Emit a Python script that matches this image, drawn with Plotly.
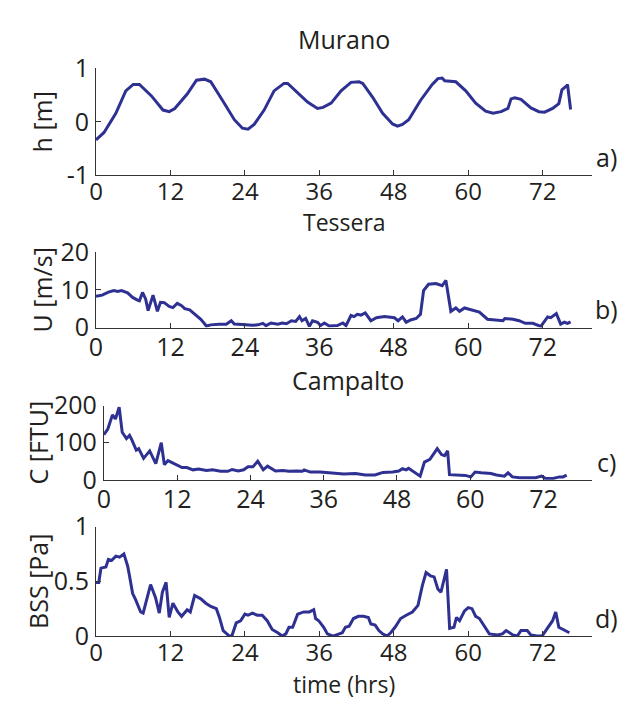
import plotly.graph_objects as go

# ---------------- data ----------------
t_h = [0, 1.3, 3.2, 4.8, 6.0, 7.0, 8.9, 10.8, 11.8, 12.7, 14.7, 16.2, 17.5, 18.5, 20.4, 22.3, 23.6,
       24.5, 25.5, 27.1, 28.7, 30.3, 30.9, 32.5, 34.1, 35.7, 36.6, 37.9, 39.5, 41.1, 42.4, 43.0, 44.6,
       46.2, 47.8, 48.6, 49.4, 50.4, 52.3, 54.2, 55.1, 55.8, 56.2, 58.0, 59.6, 61.2, 62.8, 64.0, 65.3,
       66.4, 66.9, 67.5, 68.5, 70.1, 71.4, 72.3, 73.6, 74.6, 75.1, 75.9, 76.0, 76.5]
h_m = [-0.34, -0.2, 0.16, 0.58, 0.7, 0.7, 0.49, 0.22, 0.19, 0.25, 0.52, 0.78, 0.8, 0.75, 0.4, 0.04, -0.12,
       -0.14, -0.05, 0.22, 0.58, 0.72, 0.72, 0.55, 0.37, 0.25, 0.27, 0.35, 0.58, 0.74, 0.75, 0.72, 0.46,
       0.16, -0.04, -0.08, -0.05, 0.04, 0.4, 0.7, 0.81, 0.82, 0.77, 0.75, 0.58, 0.35, 0.2, 0.16, 0.19,
       0.25, 0.43, 0.45, 0.42, 0.26, 0.19, 0.18, 0.25, 0.34, 0.6, 0.68, 0.7, 0.23]

t_u = [0, 1.0, 2.0, 2.9, 3.5, 4.1, 5.1, 5.9, 6.7, 7.0, 7.5, 8.0, 8.4, 9.2, 9.9, 10.4, 11.0, 11.8, 12.4,
       13.1, 13.8, 14.3, 15.1, 15.9, 16.9, 17.8, 18.5, 19.8, 21.0, 21.8, 22.3, 23.6, 25.2, 26.1, 26.9,
       27.4, 28.2, 29.3, 30.0, 30.7, 31.5, 32.2, 32.8, 33.2, 33.8, 34.4, 34.9, 35.7, 36.2, 36.8, 37.6,
       38.9, 39.8, 40.3, 41.1, 41.6, 42.1, 42.7, 43.4, 44.3, 45.2, 46.5, 48.1, 48.7, 49.4, 50.0, 50.7,
       51.6, 52.3, 52.8, 53.6, 54.8, 55.8, 56.4, 57.2, 58.0, 58.6, 59.4, 60.5, 61.8, 63.1, 64.4, 65.6,
       65.9, 67.2, 68.2, 69.2, 70.4, 71.7, 72.8, 73.3, 74.2, 74.9, 75.5, 76.0, 76.5]
u_ms = [8.3, 8.6, 9.4, 9.8, 9.6, 9.8, 9.2, 8.0, 7.3, 7.1, 9.3, 7.6, 4.5, 8.6, 4.3, 6.7, 6.6, 5.6, 5.3,
        6.4, 5.8, 5.0, 4.7, 3.5, 2.2, 0.4, 0.7, 0.85, 0.85, 1.8, 0.9, 0.8, 0.6, 0.7, 1.1,
        0.5, 1.2, 0.9, 1.2, 1.0, 1.8, 1.6, 2.9, 1.8, 2.4, 0.3, 1.8, 1.4, 0.5, 1.2, 0.4,
        0.5, 1.2, 0.5, 3.2, 2.9, 3.5, 3.3, 3.9, 1.8, 2.6, 2.9, 2.6, 1.8, 2.8, 1.4, 2.0,
        2.4, 3.5, 9.8, 11.5, 11.7, 11.1, 12.5, 4.3, 5.2, 4.3, 5.2, 4.7, 4.1, 2.2, 1.9, 1.8,
        2.4, 2.2, 1.8, 1.1, 1.1, 0.3, 2.8, 2.6, 3.7, 0.9, 1.4, 1.1, 1.5]

t_c = [0, 0.64, 1.4, 1.9, 2.5, 3.0, 3.7, 4.2, 4.6, 5.3, 5.7, 6.5, 7.5, 8.5, 9.4, 9.9, 10.5, 11.4, 12.1,
       12.8, 13.6, 14.6, 15.5, 16.8, 17.8, 19.1, 20.3, 21.0, 22.0, 22.9, 23.6, 24.4, 25.2, 26.1, 26.8,
       27.4, 28.1, 29.3, 30.3, 31.6, 32.5, 32.8, 33.8, 35.4, 37.3, 39.3, 41.2, 42.8, 44.4, 45.7, 47.3,
       48.3, 48.9, 49.5, 49.9, 50.6, 51.2, 51.8, 52.5, 53.4, 54.6, 55.3, 55.8, 56.3, 56.6, 57.9, 59.2,
       60.1, 60.8, 61.8, 63.4, 64.3, 65.6, 66.2, 66.9, 68.1, 69.4, 70.7, 71.7, 72.3, 73.6, 74.6, 75.2, 75.8]
c_ftu = [122, 137, 175, 164, 196, 128, 111, 120, 107, 80, 84, 58, 78, 44, 100, 41, 52, 44, 40,
         33, 33, 27, 29, 25, 27, 23, 23, 28, 24, 27, 35, 35, 50, 27, 37,
         30, 24, 25, 23, 24, 23, 27, 21, 21, 19, 16, 17, 13, 13, 20, 21,
         24, 30, 27, 31, 23, 17, 10, 48, 55, 84, 68, 65, 78, 14, 13, 12,
         8, 21, 19, 17, 13, 10, 19, 8, 6, 6, 6, 10, 4, 4, 8, 8, 13]

t_b = [0, 0.45, 0.8, 1.6, 2.0, 2.5, 3.2, 3.8, 4.5, 4.8, 5.1, 5.4, 5.9, 6.4, 7.2, 7.6, 8.8, 9.6, 10.2,
       10.7, 11.3, 11.8, 12.4, 13.2, 13.8, 14.7, 15.2, 15.9, 16.9, 17.7, 18.5, 19.4, 19.9, 20.5, 21.2,
       21.5, 21.9, 22.6, 23.3, 24.0, 24.5, 25.2, 26.0, 26.8, 27.6, 28.4, 29.3, 30.0, 30.6, 31.1, 31.7,
       32.5, 33.5, 34.4, 35.1, 35.4, 35.9, 36.7, 37.3, 38.2, 39.2, 39.7, 40.2, 40.8, 41.5, 42.3, 43.1,
       43.9, 44.3, 45.0, 45.6, 46.2, 46.9, 47.5, 48.2, 49.1, 50.0, 51.0, 51.9, 52.6, 53.2, 53.9, 54.5,
       55.1, 55.6, 56.1, 56.5, 57.0, 57.7, 58.1, 58.6, 59.4, 60.0, 60.6, 61.2, 61.8, 62.6, 63.4, 64.7,
       65.5, 66.1, 67.2, 67.9, 68.5, 69.5, 70.1, 71.1, 71.9, 72.5, 73.6, 74.1, 74.6, 75.3, 75.9, 76.3]
bss_pa = [0.49, 0.49, 0.62, 0.63, 0.70, 0.69, 0.73, 0.72, 0.75, 0.69, 0.64, 0.55, 0.39, 0.33, 0.22, 0.21, 0.47, 0.35, 0.21,
          0.40, 0.49, 0.17, 0.30, 0.22, 0.18, 0.24, 0.22, 0.37, 0.34, 0.30, 0.27, 0.25, 0.17, 0.05, 0.02,
          0.0, 0.0, 0.12, 0.14, 0.20, 0.19, 0.21, 0.19, 0.19, 0.14, 0.06, 0.03, 0.0, 0.02, 0.08, 0.08,
          0.20, 0.22, 0.22, 0.24, 0.16, 0.14, 0.08, 0.02, 0.0, 0.02, 0.03, 0.08, 0.09, 0.16, 0.18, 0.18,
          0.17, 0.11, 0.10, 0.05, 0.02, 0.0, 0.03, 0.08, 0.16, 0.19, 0.22, 0.28, 0.46, 0.58, 0.55, 0.54,
          0.43, 0.40, 0.52, 0.61, 0.07, 0.08, 0.17, 0.14, 0.23, 0.26, 0.25, 0.18, 0.16, 0.09, 0.02, 0.01,
          0.02, 0.05, 0.01, 0.0, 0.05, 0.05, 0.01, 0.0, 0.0, 0.05, 0.14, 0.22, 0.08, 0.06, 0.04, 0.03]

x_ticks = [0, 12, 24, 36, 48, 60, 72]
panel_titles = ["Murano", "Tessera", "Campalto"]
y_titles = ["h [m]", "U [m/s]", "C [FTU]", "BSS [Pa]"]
panel_letters = ["a)", "b)", "c)", "d)"]

# ---------------- layout helpers ----------------
W, H = 621, 713
FONT = "Open Sans"
LINE = "#2E3192"
AX = "#333333"
FS = 25


def px(x):
    return x / W


def py(y):
    return 1 - y / H


# pixel boxes: (left, right, top, bottom)
boxes = [(90, 592, 53, 165), (90, 592, 246, 325), (98, 592, 407, 485), (90, 592, 534, 649)]
yranges = [[-1, 1], [0, 20], [0, 200], [0, 1]]
yticks = [[-1, 0, 1], [0, 10, 20], [0, 100, 200], [0, 0.5, 1]]
yticktext = [["-1", "0", "1"], ["0", "10", "20"], ["0", "100", "200"], ["0", "0.5", "1"]]
series = [(t_h, h_m), (t_u, u_ms), (t_c, c_ftu), (t_b, bss_pa)]
ytitle_x = [35, 35, 31, 32]
xtick_fs = [24, 25, 25, 24]
xtick_off = [-5, -3, -3, -5]

fig = go.Figure()
layout = dict(
    width=W, height=H, margin=dict(l=0, r=0, t=0, b=0),
    paper_bgcolor="white", plot_bgcolor="white", showlegend=False,
    font=dict(family=FONT, size=FS, color="#231F20"),
)
annotations = []
for i, ((l, r, t, b), (xs, ys)) in enumerate(zip(boxes, series)):
    k = "" if i == 0 else str(i + 1)
    fig.add_trace(go.Scatter(x=xs, y=ys, mode="lines", line=dict(color=LINE, width=3),
                             xaxis="x" + k, yaxis="y" + k))
    layout["xaxis" + k] = dict(
        domain=[px(l), px(r)], range=[0, 80], anchor="y" + k,
        tickvals=x_ticks, ticktext=[str(v) for v in x_ticks],
        ticks="inside", ticklen=5, tickcolor=AX, tickwidth=1,
        showline=True, linecolor=AX, linewidth=1, showgrid=False, zeroline=False,
        tickfont=dict(size=xtick_fs[i]), ticklabelstandoff=xtick_off[i],
    )
    layout["yaxis" + k] = dict(
        domain=[py(b), py(t)], range=yranges[i], anchor="x" + k,
        tickvals=yticks[i], ticktext=yticktext[i],
        ticks="inside", ticklen=5, tickcolor=AX, tickwidth=1,
        showline=True, linecolor=AX, linewidth=1, showgrid=False, zeroline=False,
        tickfont=dict(size=FS), ticklabelstandoff=1,
    )
    # y title
    annotations.append(dict(text=y_titles[i], x=px(ytitle_x[i]), y=py((t + b) / 2), xref="paper", yref="paper",
                            textangle=-90, showarrow=False, xanchor="center", yanchor="middle",
                            font=dict(size=FS)))
    # panel letter
    annotations.append(dict(text=panel_letters[i], x=px(606), y=py(b - 19), xref="paper", yref="paper",
                            showarrow=False, xanchor="center", yanchor="middle", font=dict(size=FS)))

title_pos = [(341, 22), (341, 214), (345, 380)]
title_fs = [25, 23, 25]
for txt, (x, y), fs in zip(panel_titles, title_pos, title_fs):
    annotations.append(dict(text=txt, x=px(x), y=py(y), xref="paper", yref="paper", showarrow=False,
                            xanchor="center", yanchor="middle", font=dict(size=fs)))
annotations.append(dict(text="time (hrs)", x=px(341), y=py(699), xref="paper", yref="paper",
                        showarrow=False, xanchor="center", yanchor="middle", font=dict(size=23)))
layout["annotations"] = annotations
fig.update_layout(**layout)
fig.write_html("out.html")
